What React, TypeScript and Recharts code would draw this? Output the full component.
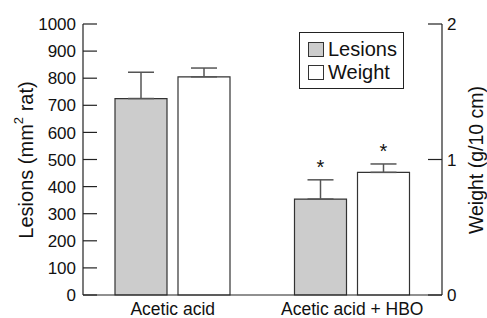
import React from "react";
import { BarChart, Bar, XAxis, YAxis, ErrorBar, LabelList } from "recharts";

const categories = ["Acetic acid", "Acetic acid + HBO"];
const lesions = [725, 354];
const lesionsErr = [97, 71];
const weight = [1.61, 0.905];
const weightErr = [0.065, 0.062];
const significance = ["", "*"];
const leftTicks = [0, 100, 200, 300, 400, 500, 600, 700, 800, 900, 1000];
const rightTicks = [0, 1, 2];
const seriesNames = ["Lesions", "Weight"];

const data = categories.map((name, i) => ({
  name,
  lesions: lesions[i],
  lesionsErr: [0, lesionsErr[i]],
  weight: weight[i],
  weightErr: [0, weightErr[i]],
  sig: significance[i],
  lesErrVal: lesionsErr[i],
  wErrVal: weightErr[i],
}));

const FONT = '"Liberation Sans", Arial, Helvetica, sans-serif';
const TXT = "#111";
const AX = "#222";

const LeftTick = (props: any) => {
  const { x, y, payload } = props;
  return (
    <g>
      <line x1={x + 7} x2={x + 21} y1={y} y2={y} stroke={AX} strokeWidth={1.2} />
      <text x={x} y={y} dy="0.36em" textAnchor="end" fontSize={17} fill={TXT} fontFamily={FONT}>
        {payload.value}
      </text>
    </g>
  );
};

const RightTick = (props: any) => {
  const { x, y, payload } = props;
  return (
    <g>
      <line x1={x - 5} x2={x - 19} y1={y} y2={y} stroke={AX} strokeWidth={1.2} />
      <text x={x} y={y} dy="0.36em" textAnchor="start" fontSize={17} fill={TXT} fontFamily={FONT}>
        {payload.value}
      </text>
    </g>
  );
};

const XTick = (props: any) => {
  const { x, y, payload } = props;
  return (
    <text x={x} y={y} dy="0.71em" textAnchor="middle" fontSize={17.5} fill={TXT} fontFamily={FONT}>
      {payload.value}
    </text>
  );
};

const makeStar = (errKey: string) => (props: any) => {
  const { x, y, width, height, value, index } = props;
  const d = data[index] as any;
  if (!d || !d.sig) return null;
  const pxPerUnit = height / value;
  const errPx = d[errKey] * pxPerUnit;
  return (
    <text x={x + width / 2} y={y - errPx - 6} textAnchor="middle" fontSize={20} fill={TXT} fontFamily={FONT}>
      {d.sig}
    </text>
  );
};

const LegendBox = () => (
  <div
    style={{
      position: "absolute",
      left: 299,
      top: 32,
      width: 105,
      height: 57,
      boxSizing: "border-box",
      border: "1.3px solid #222",
      background: "#fff",
      padding: "5px 0 0 8px",
      fontFamily: FONT,
      fontSize: 20,
      color: TXT,
      lineHeight: "23px",
    }}
  >
    {seriesNames.map((n, i) => (
      <div key={n} style={{ display: "flex", alignItems: "center" }}>
        <span
          style={{
            display: "inline-block",
            width: 16,
            height: 15,
            boxSizing: "border-box",
            border: "1.2px solid #333",
            background: i === 0 ? "#cccccc" : "#ffffff",
            marginRight: 4,
          }}
        />
        <span>{n}</span>
      </div>
    ))}
  </div>
);

const LeftTitle = () => (
  <text
    transform="translate(26,160) rotate(-90)"
    textAnchor="middle"
    dominantBaseline="central"
    fontSize={20}
    fill={TXT}
    fontFamily={FONT}
  >
    <tspan>Lesions (mm</tspan>
    <tspan fontSize={13} dy={-8}>2</tspan>
    <tspan dy={8}> rat)</tspan>
  </text>
);

const RightTitle = () => (
  <text
    transform="translate(476,160) rotate(-90)"
    textAnchor="middle"
    dominantBaseline="central"
    fontSize={19.5}
    fill={TXT}
    fontFamily={FONT}
  >
    Weight (g/10 cm)
  </text>
);

export default function App() {
  return (
    <div style={{ position: "absolute", left: 0, top: 0, width: 487, height: 318, background: "#fff" }}>
      <BarChart
        width={487}
        height={318}
        data={data}
        margin={{ top: 24, right: 0, bottom: 0, left: 0 }}
        barSize={52}
        barGap={11}
      >
        <XAxis
          dataKey="name"
          height={23}
          tickSize={0}
          tickMargin={8}
          tickLine={false}
          axisLine={{ stroke: AX, strokeWidth: 1.2 }}
          tick={<XTick />}
          interval={0}
        />
        <YAxis
          yAxisId="left"
          orientation="left"
          width={83}
          domain={[0, 1000]}
          ticks={leftTicks}
          interval={0}
          tickSize={0}
          tickMargin={7}
          tickLine={false}
          axisLine={{ stroke: AX, strokeWidth: 1.2 }}
          tick={<LeftTick />}
          label={{ content: <LeftTitle /> }}
        />
        <YAxis
          yAxisId="right"
          orientation="right"
          width={45}
          domain={[0, 2]}
          ticks={rightTicks}
          interval={0}
          tickSize={0}
          tickMargin={5}
          tickLine={false}
          axisLine={{ stroke: AX, strokeWidth: 1.2 }}
          tick={<RightTick />}
          label={{ content: <RightTitle /> }}
        />
        <Bar yAxisId="left" dataKey="lesions" name="Lesions" fill="#cccccc" stroke="#333" strokeWidth={1.2} isAnimationActive={false}>
          <ErrorBar dataKey="lesionsErr" direction="y" width={13} stroke="#555" strokeWidth={1.5} />
          <LabelList dataKey="lesions" content={makeStar("lesErrVal")} />
        </Bar>
        <Bar yAxisId="right" dataKey="weight" name="Weight" fill="#ffffff" stroke="#333" strokeWidth={1.2} isAnimationActive={false}>
          <ErrorBar dataKey="weightErr" direction="y" width={13} stroke="#555" strokeWidth={1.5} />
          <LabelList dataKey="weight" content={makeStar("wErrVal")} />
        </Bar>
      </BarChart>
      <LegendBox />
    </div>
  );
}
